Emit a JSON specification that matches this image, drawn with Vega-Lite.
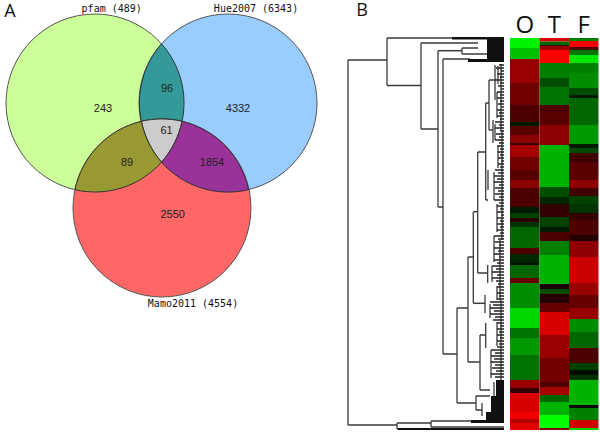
{"$schema":"https://vega.github.io/schema/vega-lite/v6.json","width":600,"height":433,"padding":0,"autosize":"none","background":"white","config":{"view":{"stroke":null}},"resolve":{"scale":{"x":"independent","color":"independent","shape":"independent","fill":"independent"}},
"layer":[
{"data":{"values":[{"set":"pfam","x":95,"y":103},{"set":"Hue2007","x":228,"y":103},{"set":"Mamo2011","x":162,"y":208}]},
"mark":{"type":"point","shape":"circle","filled":true,"size":31684,"opacity":1,"stroke":"#555555","strokeWidth":1},
"encoding":{"x":{"field":"x","type":"quantitative","axis":null,"scale":{"domain":[0,600],"nice":false,"zero":false}},"y":{"field":"y","type":"quantitative","axis":null,"scale":{"domain":[433,0],"nice":false,"zero":false}},"fill":{"field":"set","type":"nominal","legend":null,"scale":{"domain":["pfam","Hue2007","Mamo2011"],"range":["#ccff99","#99ccff","#ff6666"]}}}},
{"data":{"values":[{"region":"pfam+Hue","x":167,"y":89},{"region":"all","x":166.5,"y":131},{"region":"pfam+Mamo","x":127,"y":163},{"region":"Hue+Mamo","x":212,"y":163}]},
"mark":{"type":"point","filled":true,"size":4,"opacity":1,"stroke":"#333333","strokeWidth":1},
"encoding":{"x":{"field":"x","type":"quantitative","axis":null,"scale":{"domain":[0,600],"nice":false,"zero":false}},"y":{"field":"y","type":"quantitative","axis":null,"scale":{"domain":[433,0],"nice":false,"zero":false}},
"fill":{"field":"region","type":"nominal","legend":null,"scale":{"domain":["pfam+Hue","all","pfam+Mamo","Hue+Mamo"],"range":["#339999","#cccccc","#999933","#993399"]}},
"shape":{"field":"region","type":"nominal","legend":null,"scale":{"domain":["pfam+Hue","all","pfam+Mamo","Hue+Mamo"],"range":["M-5.5,-45.15 A89,89 0 0 1 15.1,32.3 A89,89 0 0 0 -25.6,32.3 A89,89 0 0 1 -5.5,-45.15 Z","M-25.1,-9.7 A89,89 0 0 1 15.6,-9.7 A89,89 0 0 1 -5,31.15 A89,89 0 0 1 -25.1,-9.7 Z","M14.4,-41.7 A89,89 0 0 0 34.5,-0.85 A89,89 0 0 1 -52.1,26.7 A89,89 0 0 1 14.4,-41.7 Z","M-29.9,-41.7 A89,89 0 0 1 36.6,26.7 A89,89 0 0 1 -50.5,-0.85 A89,89 0 0 0 -29.9,-41.7 Z"]}}}},
{"data":{"values":[{"t":"243","x":103,"y":109},{"t":"96","x":167,"y":89},{"t":"4332","x":238,"y":109},{"t":"61","x":166.5,"y":131},{"t":"89","x":127,"y":163},{"t":"1854","x":212,"y":163},{"t":"2550","x":172.7,"y":215}]},
"mark":{"type":"text","font":"Liberation Sans","fontSize":11,"color":"#222222","align":"center","baseline":"middle"},
"encoding":{"x":{"field":"x","type":"quantitative","axis":null,"scale":{"domain":[0,600],"nice":false,"zero":false}},"y":{"field":"y","type":"quantitative","axis":null,"scale":{"domain":[433,0],"nice":false,"zero":false}},"text":{"field":"t"}}},
{"data":{"values":[{"t":"pfam (489)","x":111.7,"y":8.5},{"t":"Hue2007 (6343)","x":256,"y":8.5},{"t":"Mamo2011 (4554)","x":193,"y":304}]},
"mark":{"type":"text","font":"DejaVu Sans Mono","fontSize":10,"color":"#111111","align":"center","baseline":"middle"},
"encoding":{"x":{"field":"x","type":"quantitative","axis":null,"scale":{"domain":[0,600],"nice":false,"zero":false}},"y":{"field":"y","type":"quantitative","axis":null,"scale":{"domain":[433,0],"nice":false,"zero":false}},"text":{"field":"t"}}},
{"data":{"values":[{"t":"A","x":10,"y":12},{"t":"B","x":362,"y":11}]},
"mark":{"type":"text","font":"Open Sans","fontSize":18,"color":"#111111","align":"center","baseline":"middle"},
"encoding":{"x":{"field":"x","type":"quantitative","axis":null,"scale":{"domain":[0,600],"nice":false,"zero":false}},"y":{"field":"y","type":"quantitative","axis":null,"scale":{"domain":[433,0],"nice":false,"zero":false}},"text":{"field":"t"}}},
{"data":{"values":[{"x":348,"x2":387,"y":60},{"x":387,"x2":455,"y":38},{"x":387,"x2":421,"y":85.6},{"x":421,"x2":478,"y":43},{"x":421,"x2":438,"y":129},{"x":438,"x2":462,"y":50.7},{"x":462,"x2":478,"y":48},{"x":462,"x2":487,"y":54},{"x":438,"x2":443,"y":207},{"x":443,"x2":470,"y":59},{"x":443,"x2":457,"y":354},{"x":457,"x2":468,"y":308},{"x":468,"x2":473.3,"y":257},{"x":473.3,"x2":477.7,"y":211.7},{"x":477.7,"x2":485.7,"y":152},{"x":485.7,"x2":489,"y":103},{"x":489,"x2":495,"y":80},{"x":489,"x2":493,"y":130},{"x":485.7,"x2":488,"y":200},{"x":477.7,"x2":487.7,"y":273},{"x":473.3,"x2":485,"y":303.3},{"x":468,"x2":480,"y":362},{"x":480,"x2":485.7,"y":335},{"x":480,"x2":490,"y":390},{"x":457,"x2":476,"y":403},{"x":476,"x2":490,"y":396},{"x":476,"x2":482,"y":410},{"x":348,"x2":397,"y":425},{"x":397,"x2":431,"y":423},{"x":397,"x2":504,"y":429},{"x":431,"x2":472,"y":421},{"x":431,"x2":504,"y":427}]},
"mark":{"type":"rule","color":"#3a3a3a","strokeWidth":1.5},
"encoding":{"x":{"field":"x","type":"quantitative","axis":null,"scale":{"domain":[0,600],"nice":false,"zero":false}},"x2":{"field":"x2"},"y":{"field":"y","type":"quantitative","axis":null,"scale":{"domain":[433,0],"nice":false,"zero":false}}}},
{"data":{"values":[{"x":348,"y":60,"y2":425},{"x":387,"y":38,"y2":85.6},{"x":421,"y":43,"y2":129},{"x":438,"y":50.7,"y2":207},{"x":443,"y":59,"y2":354},{"x":457,"y":308,"y2":403},{"x":468,"y":257,"y2":362},{"x":473.3,"y":211.7,"y2":303.3},{"x":477.7,"y":152,"y2":273},{"x":485.7,"y":103,"y2":200},{"x":489,"y":80,"y2":130},{"x":495,"y":65,"y2":100},{"x":493,"y":120,"y2":143},{"x":488,"y":170,"y2":190},{"x":487.7,"y":265,"y2":283},{"x":485,"y":295,"y2":313},{"x":480,"y":335,"y2":390},{"x":485.7,"y":323,"y2":348},{"x":476,"y":396,"y2":410},{"x":482,"y":403,"y2":416},{"x":397,"y":423,"y2":429},{"x":431,"y":421,"y2":427},{"x":462,"y":48,"y2":54},{"x":498,"y":66,"y2":84},{"x":497,"y":92,"y2":118},{"x":495,"y":124,"y2":140},{"x":498,"y":146,"y2":168},{"x":494,"y":172,"y2":200},{"x":497,"y":204,"y2":232},{"x":494,"y":236,"y2":262},{"x":492,"y":266,"y2":282},{"x":497,"y":286,"y2":300},{"x":490,"y":304,"y2":318},{"x":497,"y":322,"y2":346},{"x":491,"y":350,"y2":378},{"x":494,"y":382,"y2":418},{"x":501,"y":64,"y2":130},{"x":502,"y":130,"y2":240},{"x":500,"y":240,"y2":300},{"x":501,"y":300,"y2":380}]},
"mark":{"type":"rule","color":"#3a3a3a","strokeWidth":1.3},
"encoding":{"x":{"field":"x","type":"quantitative","axis":null,"scale":{"domain":[0,600],"nice":false,"zero":false}},"y":{"field":"y","type":"quantitative","axis":null,"scale":{"domain":[433,0],"nice":false,"zero":false}},"y2":{"field":"y2"}}},
{"data":{"values":[{"x":499,"y":65},{"x":496,"y":68},{"x":501,"y":71},{"x":497,"y":74},{"x":500,"y":77},{"x":495,"y":80},{"x":500,"y":83},{"x":498,"y":86},{"x":501,"y":89},{"x":497,"y":92},{"x":500,"y":95},{"x":497,"y":98},{"x":500,"y":101},{"x":498,"y":104},{"x":501,"y":107},{"x":497,"y":110},{"x":499,"y":113},{"x":497,"y":116},{"x":500,"y":119},{"x":495,"y":122},{"x":499,"y":125},{"x":495,"y":128},{"x":500,"y":131},{"x":496,"y":134},{"x":499,"y":137},{"x":495,"y":140},{"x":499,"y":143},{"x":497,"y":146},{"x":500,"y":149},{"x":498,"y":152},{"x":500,"y":155},{"x":498,"y":158},{"x":501,"y":161},{"x":498,"y":164},{"x":500,"y":167},{"x":495,"y":170},{"x":498,"y":173},{"x":494,"y":176},{"x":497,"y":179},{"x":494,"y":182},{"x":499,"y":185},{"x":495,"y":188},{"x":498,"y":191},{"x":495,"y":194},{"x":499,"y":197},{"x":494,"y":200},{"x":499,"y":203},{"x":497,"y":206},{"x":500,"y":209},{"x":497,"y":212},{"x":501,"y":215},{"x":497,"y":218},{"x":500,"y":221},{"x":497,"y":224},{"x":500,"y":227},{"x":497,"y":230},{"x":500,"y":233},{"x":494,"y":236},{"x":498,"y":239},{"x":495,"y":242},{"x":499,"y":245},{"x":494,"y":248},{"x":498,"y":251},{"x":494,"y":254},{"x":499,"y":257},{"x":494,"y":260},{"x":497,"y":263},{"x":492,"y":266},{"x":496,"y":269},{"x":492,"y":272},{"x":497,"y":275},{"x":492,"y":278},{"x":496,"y":281},{"x":498,"y":284},{"x":497,"y":287},{"x":500,"y":290},{"x":497,"y":293},{"x":499,"y":296},{"x":497,"y":299},{"x":490,"y":302},{"x":493,"y":305},{"x":490,"y":308},{"x":494,"y":311},{"x":490,"y":314},{"x":495,"y":317},{"x":493,"y":320},{"x":497,"y":323},{"x":500,"y":326},{"x":497,"y":329},{"x":499,"y":332},{"x":497,"y":335},{"x":500,"y":338},{"x":497,"y":341},{"x":499,"y":344},{"x":497,"y":347},{"x":491,"y":350},{"x":495,"y":353},{"x":491,"y":356},{"x":494,"y":359},{"x":491,"y":362},{"x":495,"y":365},{"x":492,"y":368},{"x":496,"y":371},{"x":491,"y":374},{"x":495,"y":377}]},
"mark":{"type":"rule","color":"#222222","strokeWidth":1.5},
"encoding":{"x":{"field":"x","type":"quantitative","axis":null,"scale":{"domain":[0,600],"nice":false,"zero":false}},"x2":{"datum":504},"y":{"field":"y","type":"quantitative","axis":null,"scale":{"domain":[433,0],"nice":false,"zero":false}}}},
{"data":{"values":[{"x":487,"x2":504,"y":39,"y2":60},{"x":452,"x2":504,"y":37,"y2":39.5},{"x":468,"x2":504,"y":59,"y2":62},{"x":496,"x2":504,"y":380,"y2":396},{"x":491,"x2":504,"y":396,"y2":412},{"x":486,"x2":504,"y":412,"y2":421},{"x":471,"x2":504,"y":420,"y2":423},{"x":398,"x2":504,"y":428,"y2":430}]},
"mark":{"type":"rect","color":"#111111"},
"encoding":{"x":{"field":"x","type":"quantitative","axis":null,"scale":{"domain":[0,600],"nice":false,"zero":false}},"x2":{"field":"x2"},"y":{"field":"y","type":"quantitative","axis":null,"scale":{"domain":[433,0],"nice":false,"zero":false}},"y2":{"field":"y2"}}},
{"data":{"values":[
{"c":"O","a":38,"b":48,"v":-0.95},{"c":"O","a":48,"b":59,"v":-0.75},{"c":"O","a":59,"b":83,"v":0.6},{"c":"O","a":83,"b":105,"v":0.45},{"c":"O","a":105,"b":122,"v":0.3},{"c":"O","a":122,"b":126,"v":-0.1},{"c":"O","a":126,"b":135,"v":0.35},{"c":"O","a":135,"b":143,"v":0.55},{"c":"O","a":143,"b":145,"v":0.2},{"c":"O","a":145,"b":157,"v":0.65},{"c":"O","a":157,"b":170,"v":0.45},{"c":"O","a":170,"b":180,"v":0.35},{"c":"O","a":180,"b":188,"v":0.55},{"c":"O","a":188,"b":207,"v":0.3},{"c":"O","a":207,"b":213,"v":-0.1},{"c":"O","a":213,"b":218,"v":-0.25},{"c":"O","a":218,"b":222,"v":0.15},{"c":"O","a":222,"b":227,"v":-0.2},{"c":"O","a":227,"b":248,"v":-0.4},{"c":"O","a":248,"b":254,"v":0.3},{"c":"O","a":254,"b":263,"v":-0.15},{"c":"O","a":263,"b":265,"v":-0.05},{"c":"O","a":265,"b":278,"v":-0.4},{"c":"O","a":278,"b":283,"v":0.4},{"c":"O","a":283,"b":308,"v":-0.55},{"c":"O","a":308,"b":328,"v":-0.85},{"c":"O","a":328,"b":338,"v":-0.45},{"c":"O","a":338,"b":355,"v":-0.6},{"c":"O","a":355,"b":380,"v":-0.45},{"c":"O","a":380,"b":388,"v":0.6},{"c":"O","a":388,"b":393,"v":0.2},{"c":"O","a":393,"b":412,"v":0.85},{"c":"O","a":412,"b":419,"v":0.95},{"c":"O","a":419,"b":423,"v":0.7},{"c":"O","a":423,"b":430,"v":0.9},
{"c":"T","a":38,"b":41.5,"v":0.85},{"c":"T","a":41.5,"b":45,"v":-0.4},{"c":"T","a":45,"b":46,"v":0.2},{"c":"T","a":46,"b":50,"v":0.6},{"c":"T","a":50,"b":63,"v":1},{"c":"T","a":63,"b":78,"v":-0.5},{"c":"T","a":78,"b":87,"v":-0.3},{"c":"T","a":87,"b":105,"v":-0.45},{"c":"T","a":105,"b":112,"v":0.3},{"c":"T","a":112,"b":125,"v":0.35},{"c":"T","a":125,"b":145,"v":0.55},{"c":"T","a":145,"b":187,"v":-0.7},{"c":"T","a":187,"b":197,"v":-0.3},{"c":"T","a":197,"b":204,"v":-0.15},{"c":"T","a":204,"b":217,"v":0.2},{"c":"T","a":217,"b":227,"v":-0.25},{"c":"T","a":227,"b":232,"v":-0.1},{"c":"T","a":232,"b":241,"v":0.3},{"c":"T","a":241,"b":255,"v":-0.5},{"c":"T","a":255,"b":284,"v":-0.7},{"c":"T","a":284,"b":289,"v":0.1},{"c":"T","a":289,"b":294,"v":-0.3},{"c":"T","a":294,"b":303,"v":0.15},{"c":"T","a":303,"b":312,"v":0.4},{"c":"T","a":312,"b":335,"v":0.85},{"c":"T","a":335,"b":358,"v":0.6},{"c":"T","a":358,"b":382,"v":0.45},{"c":"T","a":382,"b":387,"v":0.3},{"c":"T","a":387,"b":395,"v":0.65},{"c":"T","a":395,"b":402,"v":-0.4},{"c":"T","a":402,"b":415,"v":-0.7},{"c":"T","a":415,"b":428,"v":-1},{"c":"T","a":428,"b":430,"v":0.5},
{"c":"F","a":38,"b":41,"v":-0.5},{"c":"F","a":41,"b":47,"v":0.95},{"c":"F","a":47,"b":50,"v":0.3},{"c":"F","a":50,"b":55,"v":-0.45},{"c":"F","a":55,"b":63,"v":-0.9},{"c":"F","a":63,"b":73,"v":-0.5},{"c":"F","a":73,"b":88,"v":-0.55},{"c":"F","a":88,"b":95,"v":-0.3},{"c":"F","a":95,"b":98,"v":-0.1},{"c":"F","a":98,"b":125,"v":-0.4},{"c":"F","a":125,"b":144,"v":-0.6},{"c":"F","a":144,"b":148,"v":-0.1},{"c":"F","a":148,"b":153,"v":-0.3},{"c":"F","a":153,"b":163,"v":0.25},{"c":"F","a":163,"b":180,"v":0.35},{"c":"F","a":180,"b":188,"v":0.55},{"c":"F","a":188,"b":196,"v":0.25},{"c":"F","a":196,"b":204,"v":-0.25},{"c":"F","a":204,"b":213,"v":-0.2},{"c":"F","a":213,"b":220,"v":0.2},{"c":"F","a":220,"b":235,"v":0.3},{"c":"F","a":235,"b":241,"v":0.15},{"c":"F","a":241,"b":257,"v":0.55},{"c":"F","a":257,"b":283,"v":0.8},{"c":"F","a":283,"b":295,"v":0.6},{"c":"F","a":295,"b":308,"v":0.4},{"c":"F","a":308,"b":319,"v":0.6},{"c":"F","a":319,"b":332,"v":-0.55},{"c":"F","a":332,"b":348,"v":-0.4},{"c":"F","a":348,"b":363,"v":0.3},{"c":"F","a":363,"b":370,"v":-0.25},{"c":"F","a":370,"b":375,"v":-0.05},{"c":"F","a":375,"b":380,"v":-0.2},{"c":"F","a":380,"b":405,"v":-0.7},{"c":"F","a":405,"b":408,"v":0},{"c":"F","a":408,"b":420,"v":-0.5},{"c":"F","a":420,"b":428,"v":0.8},{"c":"F","a":428,"b":430,"v":-0.8}]},
"mark":{"type":"rect"},
"encoding":{"x":{"field":"c","type":"nominal","axis":null,"scale":{"domain":["O","T","F"],"range":[510,598.5],"paddingInner":0,"paddingOuter":0}},"y":{"field":"a","type":"quantitative","axis":null,"scale":{"domain":[433,0],"nice":false,"zero":false}},"y2":{"field":"b"},"color":{"field":"v","type":"quantitative","legend":null,"scale":{"domain":[-1,0,1],"range":["#00ff00","#000000","#ff0000"],"interpolate":"rgb"}}}},
{"data":{"values":[{"c":"O"},{"c":"T"},{"c":"F"}]},
"mark":{"type":"text","font":"Open Sans","fontSize":24,"color":"#111111","align":"center","baseline":"middle"},
"encoding":{"x":{"field":"c","type":"nominal","axis":null,"scale":{"domain":["O","T","F"],"range":[510,598.5],"paddingInner":0,"paddingOuter":0}},"y":{"datum":26,"type":"quantitative","axis":null,"scale":{"domain":[433,0],"nice":false,"zero":false}},"text":{"field":"c"}}}
]}
